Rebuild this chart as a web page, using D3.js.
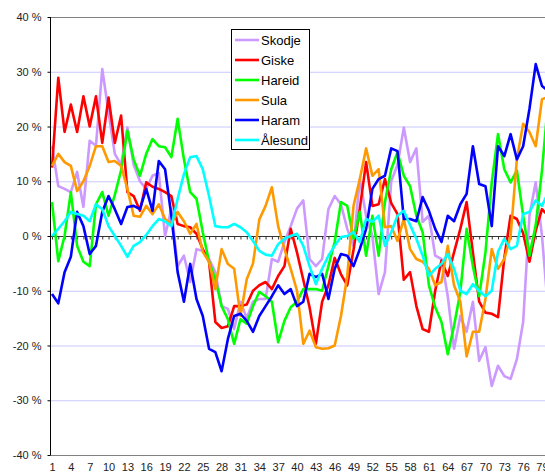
<!DOCTYPE html>
<html>
<head>
<meta charset="utf-8">
<style>
  body { margin: 0; background: #fff; overflow: hidden; }
  svg { display: block; font-family: "Liberation Sans", Arial, sans-serif; }
  .axis text { font-size: 11px; fill: #222; }
  .legend text { font-size: 13px; fill: #000; }
</style>
</head>
<body>
<svg id="chart" width="545" height="472"></svg>
<script src="https://d3js.org/d3.v7.min.js"></script>
<script>
// periods 1..80 (the chart is cut at the right edge)
const periods = d3.range(1, 81);
const xTickLabels = [1, 4, 7, 10, 13, 16, 19, 22, 25, 28, 31, 34, 37, 40, 43, 46, 49, 52, 55, 58, 61, 64, 67, 70, 73, 76, 79];
const yTicks = [-40, -30, -20, -10, 0, 10, 20, 30, 40];
const names = ["Skodje", "Giske", "Hareid", "Sula", "Haram", "Ålesund"];
const colors = ["#cc99ff", "#ff0000", "#00ff00", "#ff9900", "#0000ff", "#00ffff"];

// values in %
const skodje = [16.5, 9.1, 8.6, 8, 11.7, 5.3, 17.4, 16.5, 30.5, 22.6,
  15, 13, 19.8, 13, 10, 8.6, 11, 11.5, 0, 5,
  -5.5, -3.6, -8.4, -2.4, -2.7, -4.2, -6.6, -12.8, -13.3, -17,
  -12, -15, -12, -11.5, -11.5, -4.2, -4.7, -1.1, 1.8, 5,
  6.5, -4.2, -5.5, -4.2, 4.9, 7.3, 5.8, 1.3, -1.8, 10.4,
  3.7, 0, -10.6, -6.6, 10, 13, 19.8, 13.5, 16, 2.6,
  3.7, -3.6, -4.2, -11, -20.6, -14.6, -17.5, -12, -22.8, -20.3,
  -27.4, -23.7, -25.6, -26.1, -22.5, -15.7, 3.7, 9.8, 0, -14];
const giske = [12.5, 28.9, 19, 24, 19, 25.5, 20, 25.5, 17, 25.3,
  17, 22, 8, 7.3, 4.6, 9.8, 9, 8.6, 8, 7.3,
  2.2, 1.8, 1.6, 0.4, -2.4, -4.7, -15.7, -16.8, -16.5, -12.8,
  -12.8, -12.5, -10, -9, -8.4, -9.7, -7.3, -5.5, 1.3, -3,
  -8, -13, -19.7, -12, -9, -4, -7, -9, -2.5, 5,
  13.5, 5.5, 5.8, 10.4, 6, 4, -8, -6.6, -12.8, -17,
  -17.5, -10, -4.5, -7.3, -3, 1.3, 6.2, -3, -12, -14,
  -14.2, -14.8, -4, 3.7, 3.1, 0.5, -4.7, 1, 4.9, 3.7];
const hareid = [6.2, -4.6, 0, 8, -1.8, -4.7, -5.5, 5.8, 8, 3.7,
  7.5, 12, 19.2, 14, 11, 15, 17.7, 16.4, 16.2, 14.4,
  21.4, 14, 8, 6.8, 0.7, -4.7, -7.9, -12.8, -15.2, -19.7,
  -15.2, -16, -12.8, -10.2, -11, -12, -19.4, -15.5, -13, -12,
  -9.7, -9.7, -9.7, -10, -5.5, -1.1, 6.2, 5.5, -0.5, 4.4,
  -3.6, 3.7, -3.6, 6.2, 12.2, 15.3, 11, 9.1, 3.7, 0.7,
  -9, -13, -15.7, -21.6, -16.4, -10.2, 1.3, -5.5, -11, -3,
  9.8, 18.6, 12.2, 9.8, 12, 3.7, -3.6, 2, 12, 25];
const sula = [12.8, 15, 13.5, 12.8, 8.2, 10, 12.8, 16.4, 16.4, 13.5,
  13.7, 12.8, 8.6, 3.7, 3.5, 5.5, 4, 5.8, 3.1, 2.2,
  4.4, 2.7, 0.4, 2.2, -2.9, -4.7, -9.7, -2.4, -5.1, -6,
  -14.6, -7.9, -5, 3, 5.5, 8.9, 1.8, -2.4, -6, -10,
  -19.7, -17.3, -20.3, -20.6, -20.5, -20, -14.6, -7.3, 5.5, 10.4,
  16, 11, 12.2, 1.6, 1.8, -0.9, 3.1, -2.4, -4.2, -4.7,
  -6, -9, -8.4, -1.8, -9, -12, -22, -17.5, -17.5, -11.5,
  -2.4, -6, -4.2, 0, 14, 20.5, 19, 16.4, 25, 25.4];
const haram = [-10.6, -12.3, -6.6, -3.8, 4.4, 1.8, -3.3, -1.8, 4.4, 7.3,
  4.9, 2.2, 5.3, 5.5, 4.9, 8.6, 4.6, 13.7, 12.2, 3.7,
  -6.6, -12, -5.1, -11.5, -14.6, -20.6, -21.2, -24.7, -18.8, -14.6,
  -14.2, -15.5, -17.5, -14.6, -12.8, -11, -9, -10.6, -9.7, -12.8,
  -12, -6.9, -7.5, -6.9, -11.5, -6, -3.3, -3.6, -5.5, -2.4,
  1.3, 8.6, 10.4, 11, 16, 15.5, 3.1, 3.1, 2.7, 7.1,
  4.6, 1.3, -1.1, 3.7, 2.7, 5.8, 7.7, 16.4, 9.5, 9.1,
  1.8, 16.4, 14.6, 18.6, 14, 16.4, 23.2, 31.4, 27.4, 26.5];
const alesund = [0, 1.3, 2.7, 4.4, 4, 3.7, 2.7, 5.8, 4.9, 1.8,
  0, -1.8, -3.8, -1.8, -1.1, 0.2, 1.8, 3.1, 2.7, 1.8,
  6.8, 11.3, 14.4, 14.6, 12.2, 7.3, 1.8, 1.6, 1.6, 2.2,
  1.6, 0.7, -0.9, -2.7, -3.4, -3.6, -1.5, -0.5, 0, 0.4,
  -1.8, -5.5, -8.8, -6, -3.6, -1.8, -0.2, 0, 0.7, -1.1,
  3.1, 2.6, 3.7, -1.8, 0.7, 3.7, 4.6, 2, -0.5, -3.6,
  -7.3, -6, -5.1, -3.3, -6, -10, -10.6, -8.8, -10, -11,
  -10, -2.9, -0.5, -2.4, -1.8, 4, 4.4, 6.5, 5.5, 8];

const seriesValues = [skodje, giske, hareid, sula, haram, alesund];

const svg = d3.select("#chart");
const plotLeft = 50, plotTop = 17, plotBottom = 455;
const step = 6.282;

const x = d3.scalePoint()
  .domain(periods)
  .range([52, 52 + (periods.length - 1) * step]);

const y = d3.scaleLinear()
  .domain([-40, 40])
  .range([plotBottom, plotTop]);

// gridlines
svg.append("g")
  .selectAll("line")
  .data(yTicks.filter(d => d !== 0 && Math.abs(d) !== 40))
  .join("line")
  .attr("x1", plotLeft).attr("x2", 600)
  .attr("y1", d => y(d) + 0.5).attr("y2", d => y(d) + 0.5)
  .attr("stroke", "#c8c8ff").attr("stroke-width", 1);

// top border
svg.append("line")
  .attr("x1", plotLeft).attr("x2", 600)
  .attr("y1", y(40) + 0.5).attr("y2", y(40) + 0.5)
  .attr("stroke", "#808080");

// bottom axis with labels
const xAxis = svg.append("g")
  .attr("class", "axis")
  .attr("transform", "translate(0," + (y(-40) + 0.5) + ")")
  .call(d3.axisBottom(x).tickValues(xTickLabels).tickSize(0).tickPadding(8));
xAxis.select(".domain").attr("stroke", "#808080").attr("d", "M" + plotLeft + ",0H600");

// zero line with category ticks
const zeroAxis = svg.append("g")
  .attr("transform", "translate(0," + (y(0) + 0.5) + ")")
  .call(d3.axisBottom(x).tickValues(periods).tickSize(3).tickFormat(""));
zeroAxis.select(".domain").attr("stroke", "#333").attr("d", "M" + plotLeft + ",0H600");
zeroAxis.selectAll(".tick line").attr("stroke", "#333");

// y axis
const yAxis = svg.append("g")
  .attr("class", "axis")
  .attr("transform", "translate(" + (plotLeft + 0.5) + ",0)")
  .call(d3.axisLeft(y).tickValues(yTicks).tickSize(3).tickPadding(6).tickFormat(d => d + " %"));
yAxis.select(".domain").attr("stroke", "#000").attr("d", "M0," + plotTop + "V" + plotBottom);
yAxis.selectAll(".tick line").attr("stroke", "#000");

// lines
const line = d3.line()
  .x((d, i) => x(periods[i]))
  .y(d => y(d));

svg.append("g")
  .selectAll("path")
  .data(seriesValues)
  .join("path")
  .attr("d", d => line(d))
  .attr("fill", "none")
  .attr("stroke", (d, i) => colors[i])
  .attr("stroke-width", 2.6)
  .attr("stroke-linejoin", "round");

// legend
const legend = svg.append("g").attr("class", "legend");
legend.append("rect")
  .attr("x", 231.5).attr("y", 29.5)
  .attr("width", 78).attr("height", 120)
  .attr("fill", "#fff").attr("stroke", "#000");

const items = legend.selectAll(".item")
  .data(names)
  .join("g")
  .attr("class", "item")
  .attr("transform", (d, i) => "translate(0," + (40 + i * 20) + ")");
items.append("line")
  .attr("x1", 235).attr("x2", 259)
  .attr("stroke", (d, i) => colors[i])
  .attr("stroke-width", 2.6);
items.append("text")
  .attr("x", 261).attr("y", 0)
  .attr("dy", "0.35em")
  .text(d => d);
</script>
</body>
</html>
